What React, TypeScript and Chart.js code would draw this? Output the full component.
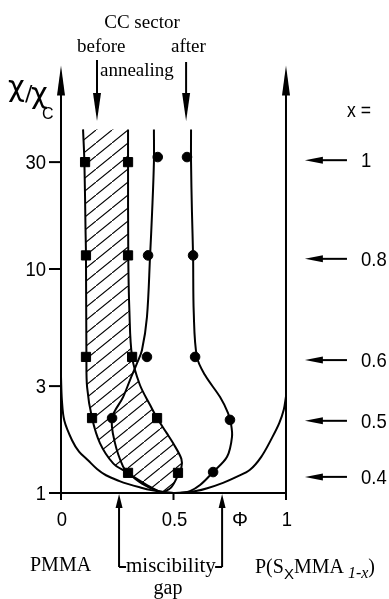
import React, { useEffect, useRef } from 'react';
import { Chart, registerables } from 'chart.js';

Chart.register(...registerables);

// ---- axis ranges (phi linear, chi/chi_c logarithmic) ----
const X_MIN = -0.2711;
const X_MAX = 1.4578;
const Y_MIN = 0.3363;
const Y_MAX = 158.8;

// ---- tick labels ----
const yTickValues = [1, 3, 10, 30];
const yTickLabels = ['1', '3', '10', '30'];
const xTickValues = [0, 0.5, 1];
const xTickLabels = ['0', '0.5', '1'];

// ---- copolymer composition markers on the right ----
const compLabels = ['1', '0.8', '0.6', '0.5', '0.4'];
const compChi = [30.6, 11.1, 3.92, 2.1, 1.18];

// ---- miscibility gap limits ----
const gapPhi = [0.258, 0.716];

// ---- binodal (outer U curve) ----
const binodalPhi = [0.0, 0.004, 0.015, 0.049, 0.08, 0.12, 0.16, 0.2, 0.26, 0.3, 0.35, 0.4, 0.45, 0.5, 0.55, 0.6, 0.65, 0.72, 0.78, 0.84, 0.89, 0.94, 0.97, 0.99, 1.0];
const binodalChi = [3.3, 2.6, 2.1, 1.72, 1.53, 1.4, 1.28, 1.2, 1.13, 1.095, 1.06, 1.03, 1.01, 1.0, 1.005, 1.02, 1.05, 1.11, 1.18, 1.27, 1.45, 1.78, 2.05, 2.35, 2.7];

// ---- CC sector before annealing (square curves) ----
const beforeLeftPhi = [0.098, 0.104, 0.109, 0.111, 0.113, 0.116, 0.138, 0.173, 0.231, 0.29, 0.382, 0.45];
const beforeLeftChi = [42, 30, 15, 11.5, 4.05, 2.97, 2.16, 1.67, 1.36, 1.24, 1.085, 1.0];
const beforeRightPhi = [0.298, 0.298, 0.299, 0.304, 0.316, 0.35, 0.396, 0.427, 0.47, 0.498, 0.535, 0.535, 0.52, 0.49, 0.45];
const beforeRightChi = [42, 30, 11.5, 6.5, 4.05, 3.05, 2.47, 2.16, 1.85, 1.67, 1.42, 1.3, 1.2, 1.06, 1.0];

// ---- CC sector after annealing (circle curves) ----
const afterLeftPhi = [0.413, 0.413, 0.405, 0.396, 0.382, 0.36, 0.338, 0.307, 0.276, 0.227, 0.24, 0.276, 0.298, 0.36, 0.43, 0.5];
const afterLeftChi = [42, 30, 18, 11.5, 6.1, 4.35, 3.8, 3.2, 2.68, 2.16, 1.67, 1.31, 1.23, 1.1, 1.02, 1.0];
const afterRightPhi = [0.578, 0.578, 0.582, 0.587, 0.59, 0.604, 0.64, 0.707, 0.742, 0.755, 0.76, 0.738, 0.676, 0.618, 0.573, 0.53];
const afterRightChi = [42, 30, 18, 11.5, 6.4, 4.05, 3.36, 2.68, 2.28, 2.05, 1.78, 1.45, 1.24, 1.085, 1.02, 1.0];

// ---- measured points ----
const squaresPhi = [0.107, 0.111, 0.111, 0.138, 0.298, 0.298, 0.298, 0.316, 0.427, 0.52];
const squaresChi = [30, 11.5, 4.05, 2.16, 1.23, 30, 11.5, 4.05, 2.16, 1.23];
const circlesPhi = [0.43, 0.387, 0.382, 0.227, 0.56, 0.587, 0.596, 0.751, 0.676];
const circlesChi = [31.6, 11.5, 4.05, 2.16, 31.6, 11.5, 4.05, 2.12, 1.24];

const SERIF = '"Liberation Serif", "Times New Roman", serif';
const SANS = '"Liberation Sans", Arial, sans-serif';

const pts = (px: number[], py: number[]) => px.map((x, i) => ({ x, y: py[i] }));

function line(ctx: CanvasRenderingContext2D, x1: number, y1: number, x2: number, y2: number, w: number) {
  ctx.lineWidth = w;
  ctx.beginPath();
  ctx.moveTo(x1, y1);
  ctx.lineTo(x2, y2);
  ctx.stroke();
}

function arrow(ctx: CanvasRenderingContext2D, x1: number, y1: number, x2: number, y2: number, headLen: number, headHalf: number, w: number) {
  const dx = x2 - x1, dy = y2 - y1;
  const L = Math.hypot(dx, dy);
  const ux = dx / L, uy = dy / L;
  line(ctx, x1, y1, x2 - ux * headLen * 0.6, y2 - uy * headLen * 0.6, w);
  ctx.beginPath();
  ctx.moveTo(x2, y2);
  ctx.lineTo(x2 - ux * headLen - uy * headHalf, y2 - uy * headLen + ux * headHalf);
  ctx.lineTo(x2 - ux * headLen + uy * headHalf, y2 - uy * headLen - ux * headHalf);
  ctx.closePath();
  ctx.fill();
}

function txt(ctx: CanvasRenderingContext2D, s: string, x: number, y: number, font: string, align: CanvasTextAlign = 'left', baseline: CanvasTextBaseline = 'alphabetic', sx = 1) {
  ctx.save();
  ctx.font = font;
  ctx.textAlign = align;
  ctx.textBaseline = baseline;
  ctx.translate(x, y);
  ctx.scale(sx, 1);
  ctx.fillText(s, 0, 0);
  ctx.restore();
}

const decor = {
  id: 'decor',
  afterDatasetsDraw(chart: any) {
    const ctx: CanvasRenderingContext2D = chart.ctx;
    const X = (v: number) => chart.scales.x.getPixelForValue(v);
    const Y = (v: number) => chart.scales.y.getPixelForValue(v);
    ctx.save();
    ctx.strokeStyle = '#000';
    ctx.fillStyle = '#000';
    const x0 = X(0), x1 = X(1), yb = Y(1), ytop = Y(81);

    // frame axes with arrows
    arrow(ctx, x0, yb + 5, x0, ytop, 30, 4, 2);
    arrow(ctx, x1, yb + 7, x1, ytop, 30, 4, 2);
    line(ctx, x0 - 12, yb, x1, yb, 2);

    // y ticks
    yTickValues.forEach((v, i) => {
      const y = Y(v);
      line(ctx, x0 - 12, y, x0, y, 2);
      txt(ctx, yTickLabels[i], x0 - 15, y + 1, `21px ${SANS}`, 'right', 'middle', 0.88);
    });
    // x ticks
    xTickValues.forEach((v, i) => {
      const x = X(v);
      line(ctx, x, yb, x, yb + 7, 2);
      txt(ctx, xTickLabels[i], x + 1, yb + 27, `21px ${SANS}`, 'center', 'middle', 0.88);
    });
    txt(ctx, 'Φ', X(0.795), yb + 27, `20px ${SANS}`, 'center', 'middle', 1);

    // y axis title chi/chi_c
    txt(ctx, 'χ', 8, 96, `29px "DejaVu Sans", sans-serif`);
    txt(ctx, '/', 25, 101, `22px "DejaVu Sans", sans-serif`);
    txt(ctx, 'χ', 31, 103, `29px "DejaVu Sans", sans-serif`);
    txt(ctx, 'C', 42, 119, `16px ${SANS}`);

    // composition arrows on the right
    txt(ctx, 'x =', 347, 111, `20px ${SANS}`, 'left', 'middle', 0.88);
    compChi.forEach((c, i) => {
      const y = Y(c);
      arrow(ctx, X(1.271), y, X(1.084), y, 18, 3.5, 2);
      txt(ctx, compLabels[i], 361, y + 1, `21px ${SANS}`, 'left', 'middle', 0.88);
    });

    // CC sector labels
    txt(ctx, 'CC sector', 142, 28, `19px ${SERIF}`, 'center');
    txt(ctx, 'before', 77, 52, `19px ${SERIF}`);
    txt(ctx, 'after', 171, 52, `19px ${SERIF}`);
    txt(ctx, 'annealing', 100, 76, `19px ${SERIF}`);
    arrow(ctx, X(0.16), 60, X(0.16), 121, 28, 4, 2);
    arrow(ctx, X(0.556), 62, X(0.556), 121, 28, 4, 2);

    // miscibility gap bracket
    gapPhi.forEach((p, i) => {
      const x = X(p);
      arrow(ctx, x, 567, x, yb + 1, 14, 3.5, 2);
      line(ctx, x, 567, i === 0 ? x + 7 : x - 7, 567, 2);
    });
    txt(ctx, 'miscibility', 126, 572, `21px ${SERIF}`);
    txt(ctx, 'gap', 168, 594, `20px ${SERIF}`, 'center');
    txt(ctx, 'PMMA', 30, 571, `20px ${SERIF}`);

    // P(SxMMA1-x)
    let cx = 255;
    const parts: [string, string, number][] = [
      ['P(S', `20px ${SERIF}`, 573],
      ['X', `15px ${SANS}`, 579],
      ['MMA', `20px ${SERIF}`, 573],
      [' 1-x', `italic 16px ${SERIF}`, 578],
      [')', `20px ${SERIF}`, 573],
    ];
    parts.forEach(([s, f, b]) => {
      ctx.font = f;
      txt(ctx, s, cx, b, f);
      cx += ctx.measureText(s).width;
    });
    ctx.restore();
  },
};

export default function App() {
  const ref = useRef<HTMLCanvasElement>(null);
  useEffect(() => {
    const canvas = ref.current!;
    const ctx = canvas.getContext('2d')!;
    // diagonal hatch pattern
    const pc = document.createElement('canvas');
    const W = 16, H = 13;
    pc.width = W;
    pc.height = H;
    const p = pc.getContext('2d')!;
    p.strokeStyle = '#000';
    p.lineWidth = 1.1;
    p.beginPath();
    p.moveTo(-W, 2 * H);
    p.lineTo(2 * W, -H);
    p.stroke();
    const pattern = ctx.createPattern(pc, 'repeat');

    const curve = (data: any[]) => ({
      data,
      showLine: true,
      borderColor: '#000',
      borderWidth: 2,
      pointRadius: 0,
      tension: 0.35,
      fill: false,
    });

    const polygon = pts(beforeLeftPhi, beforeLeftChi).concat(pts(beforeRightPhi, beforeRightChi).reverse().slice(1));

    const chart = new Chart(ctx, {
      type: 'scatter',
      data: {
        datasets: [
          {
            data: pts(squaresPhi, squaresChi),
            pointStyle: 'rect',
            pointRadius: 6.5,
            backgroundColor: '#000',
            borderColor: '#000',
            borderWidth: 1,
            showLine: false,
          } as any,
          {
            data: pts(circlesPhi, circlesChi),
            pointStyle: 'circle',
            pointRadius: 4.8,
            backgroundColor: '#000',
            borderColor: '#000',
            borderWidth: 1,
            showLine: false,
          },
          curve(pts(binodalPhi, binodalChi)),
          curve(pts(beforeLeftPhi, beforeLeftChi)),
          curve(pts(beforeRightPhi, beforeRightChi)),
          curve(pts(afterLeftPhi, afterLeftChi)),
          curve(pts(afterRightPhi, afterRightChi)),
          {
            data: polygon,
            showLine: true,
            borderColor: 'rgba(0,0,0,0)',
            borderWidth: 0,
            pointRadius: 0,
            tension: 0.35,
            fill: 'shape',
            backgroundColor: pattern as any,
          } as any,
        ],
      },
      options: {
        responsive: false,
        animation: false,
        events: [],
        layout: { padding: 0, autoPadding: false },
        plugins: {
          legend: { display: false },
          tooltip: { enabled: false },
        },
        scales: {
          x: { type: 'linear', min: X_MIN, max: X_MAX, bounds: 'data', display: false },
          y: { type: 'logarithmic', min: Y_MIN, max: Y_MAX, bounds: 'data', display: false },
        },
      } as any,
      plugins: [decor],
    });
    return () => chart.destroy();
  }, []);
  return (
    <div style={{ position: 'absolute', left: 0, top: 0, width: 389, height: 599, background: '#fff' }}>
      <canvas ref={ref} width={389} height={599} style={{ display: 'block' }} />
    </div>
  );
}
